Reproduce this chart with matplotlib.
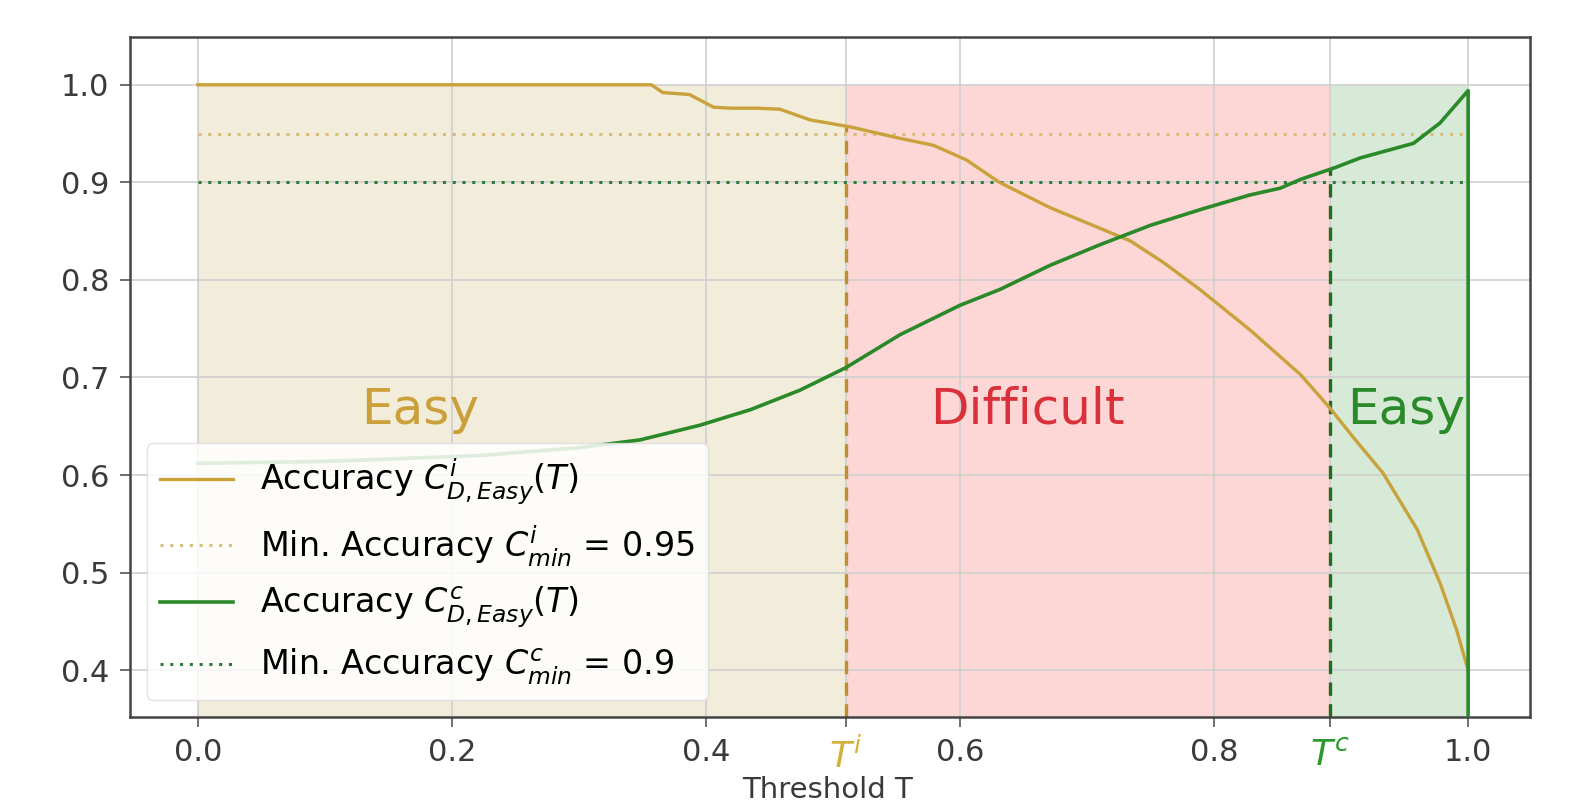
import matplotlib
matplotlib.use("Agg")
import matplotlib.pyplot as plt
import numpy as np

# ---- data ----
t_i = [0.0, 0.10, 0.20, 0.30, 0.357, 0.366, 0.387, 0.406, 0.42, 0.44, 0.458, 0.482, 0.513,
       0.553, 0.579, 0.605, 0.631, 0.671, 0.71, 0.734, 0.76, 0.789, 0.828, 0.868, 0.891,
       0.91, 0.933, 0.96, 0.978, 0.991, 1.0]
acc_i = [1.0, 1.0, 1.0, 1.0, 1.0, 0.992, 0.99, 0.977, 0.976, 0.976, 0.975, 0.964, 0.957,
         0.945, 0.938, 0.923, 0.90, 0.874, 0.853, 0.84, 0.818, 0.79, 0.749, 0.703, 0.669,
         0.638, 0.602, 0.544, 0.489, 0.441, 0.40]
t_c = [0.0, 0.10, 0.222, 0.30, 0.348, 0.395, 0.435, 0.474, 0.51, 0.553, 0.60, 0.631, 0.671,
       0.71, 0.75, 0.789, 0.828, 0.852, 0.868, 0.895, 0.915, 0.957, 0.978, 0.994, 1.0, 1.0]
acc_c = [0.612, 0.614, 0.62, 0.628, 0.636, 0.651, 0.667, 0.687, 0.71, 0.744, 0.774, 0.79,
         0.815, 0.836, 0.856, 0.872, 0.887, 0.894, 0.903, 0.915, 0.925, 0.94, 0.961, 0.985,
         0.994, 0.0]
c_min_i = 0.95
c_min_c = 0.9
T_i = 0.51
T_c = 0.891
xticks = [0.0, 0.2, 0.4, 0.6, 0.8, 1.0]
yticks = [0.4, 0.5, 0.6, 0.7, 0.8, 0.9, 1.0]
region_labels = ["Easy", "Difficult", "Easy"]

# ---- style ----
ORANGE = "#c9a23c"
ORANGE_DOT = "#d8bd78"
GREEN = "#2a8a2a"
GREEN_DOT = "#2f7a3a"
TAN = "#f2ecdb"
PINK = "#fdd6d6"
LGREEN = "#d6ead7"

fig = plt.figure(figsize=(15.75, 8.09), dpi=100)
ax = fig.add_axes([0.0825, 0.1137, 0.889, 0.8406])

ymin, ymax = 0.352, 1.049
ax.fill_between([0.0, T_i], ymin, 1.0, color=TAN, lw=0, zorder=0)
ax.fill_between([T_i, T_c], ymin, 1.0, color=PINK, lw=0, zorder=0)
ax.fill_between([T_c, 1.0], ymin, 1.0, color=LGREEN, lw=0, zorder=0)

ax.plot(t_i, acc_i, color=ORANGE, lw=2.4, label=r"Accuracy $C^{i}_{D,Easy}(T)$", zorder=3)
ax.plot([0, 1], [c_min_i, c_min_i], color=ORANGE_DOT, lw=2.2, ls=(0, (1, 2.2)),
        label=r"Min. Accuracy $C^{i}_{min}$ = 0.95", zorder=2)
ax.plot(t_c, acc_c, color=GREEN, lw=2.6, label=r"Accuracy $C^{c}_{D,Easy}(T)$", zorder=3)
ax.plot([0, 1], [c_min_c, c_min_c], color=GREEN_DOT, lw=2.2, ls=(0, (1, 2.2)),
        label=r"Min. Accuracy $C^{c}_{min}$ = 0.9", zorder=2)

ax.plot([T_i, T_i], [ymin, np.interp(T_i, t_i, acc_i)], color="#c08f2c", lw=2.4,
        ls=(0, (4, 2.5)), zorder=2)
ax.plot([T_c, T_c], [ymin, np.interp(T_c, t_c[:-1], acc_c[:-1])], color="#1f6e1f", lw=2.4,
        ls=(0, (4, 2.5)), zorder=2)

ax.text(0.175, 0.667, region_labels[0], color="#cba03a", fontsize=36, ha="center", va="center")
ax.text(0.653, 0.667, region_labels[1], color="#d9303a", fontsize=36, ha="center", va="center")
ax.text(0.951, 0.667, region_labels[2], color="#2a8a2a", fontsize=36, ha="center", va="center")

ax.set_xlim(-0.0535, 1.0488)
ax.set_ylim(ymin, ymax)
ax.set_xticks(xticks + [T_i, T_c])
ax.set_xticklabels([f"{v:.1f}" for v in xticks] + [r"$T^i$", r"$T^c$"])
ax.set_yticks(yticks)
ax.tick_params(axis="both", labelsize=22, labelcolor="#3a3a3a", length=7, width=1.2,
               color="#555555", pad=8)
tl = ax.get_xticklabels()
tl[-2].set_color("#d2b03a")
tl[-1].set_color("#2a9a2a")
tl[-2].set_fontsize(26)
tl[-1].set_fontsize(26)

ax.grid(True, color="#cfcfcf", lw=1.2, zorder=1)
ax.set_axisbelow(True)
for s in ax.spines.values():
    s.set_color("#444444")
    s.set_linewidth(1.8)

ax.set_xlabel("Threshold T", fontsize=21, color="#3a3a3a")
ax.xaxis.set_label_coords(0.498, -0.108)
ax.xaxis.label.set_va("center")

leg = ax.legend(loc="lower left", fontsize=24, frameon=True, fancybox=True,
                framealpha=0.85, edgecolor="#dddddd", handlelength=2.2,
                borderaxespad=0.5, labelspacing=0.5)

fig.savefig("out.png", dpi=100)
